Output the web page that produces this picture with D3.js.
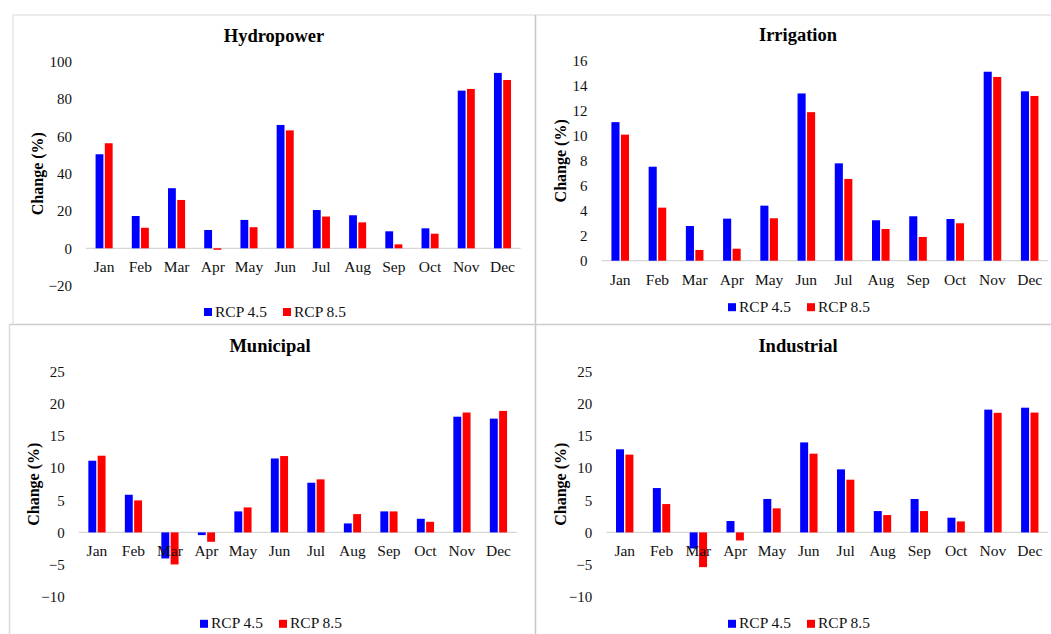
<!DOCTYPE html>
<html>
<head>
<meta charset="utf-8">
<script src="https://cdn.jsdelivr.net/npm/d3@7"></script>
<style>
  html, body { margin: 0; padding: 0; background: #ffffff; }
  svg { display: block; }
</style>
</head>
<body>
<svg id="chart" width="1051" height="634"></svg>
<script>
// Monthly change (%) in water demand / supply under two climate scenarios
const months = ["Jan", "Feb", "Mar", "Apr", "May", "Jun", "Jul", "Aug", "Sep", "Oct", "Nov", "Dec"];
const seriesNames = ["RCP 4.5", "RCP 8.5"];

const hydropower45 = [50.4, 17.3, 32.2, 9.8, 15.2, 66.1, 20.5, 17.7, 9.1, 10.7, 84.5, 94.0];
const hydropower85 = [56.3, 11.0, 25.9, -0.8, 11.3, 63.2, 17.0, 13.9, 2.1, 7.8, 85.4, 90.2];

const irrigation45 = [11.1, 7.53, 2.78, 3.37, 4.41, 13.4, 7.8, 3.24, 3.56, 3.34, 15.14, 13.57];
const irrigation85 = [10.1, 4.25, 0.86, 0.96, 3.4, 11.9, 6.55, 2.54, 1.9, 3.0, 14.72, 13.2];

const municipal45 = [11.15, 5.86, -4.05, -0.42, 3.27, 11.5, 7.73, 1.4, 3.27, 2.12, 18.0, 17.7];
const municipal85 = [11.93, 4.98, -4.98, -1.46, 3.89, 11.88, 8.25, 2.85, 3.27, 1.65, 18.65, 18.9];

const industrial45 = [12.93, 6.9, -2.5, 1.77, 5.2, 14.0, 9.81, 3.32, 5.2, 2.29, 19.1, 19.4];
const industrial85 = [12.1, 4.41, -5.4, -1.25, 3.74, 12.25, 8.2, 2.7, 3.32, 1.71, 18.6, 18.64];

const hydropowerTicks = [-20, 0, 20, 40, 60, 80, 100];
const irrigationTicks = [0, 2, 4, 6, 8, 10, 12, 14, 16];
const municipalTicks = [-10, -5, 0, 5, 10, 15, 20, 25];
const industrialTicks = [-10, -5, 0, 5, 10, 15, 20, 25];

// Panel placement on the page
const layout = [
  { title: "Hydropower", s45: hydropower45, s85: hydropower85, ticks: hydropowerTicks,
    x0: 86, x1: 520.6, yBottom: 285.6, yTop: 61.7, cx: 274, titleY: 41.5, legendY: 316.5, yLabelX: 37 },
  { title: "Irrigation", s45: irrigation45, s85: irrigation85, ticks: irrigationTicks,
    x0: 601.6, x1: 1048.3, yBottom: 260.7, yTop: 61, cx: 798, titleY: 40.7, legendY: 311.7, yLabelX: 560 },
  { title: "Municipal", s45: municipal45, s85: municipal85, ticks: municipalTicks,
    x0: 78.7, x1: 516.7, yBottom: 596.7, yTop: 371.7, cx: 270, titleY: 351.7, legendY: 628.3, yLabelX: 33.3 },
  { title: "Industrial", s45: industrial45, s85: industrial85, ticks: industrialTicks,
    x0: 606.3, x1: 1048.2, yBottom: 596.7, yTop: 371.7, cx: 798, titleY: 351.7, legendY: 628.3, yLabelX: 560 }
];

const colors = ["#0000ff", "#ff0000"];
const serif = "'Liberation Serif', 'Times New Roman', serif";
const textColor = "#111";
const barGap = 1.4;

const svg = d3.select("#chart");

// Panel frame lines
const frame = svg.append("g").attr("fill", "none");
frame.append("line").attr("x1", 13).attr("y1", 15).attr("x2", 1051).attr("y2", 15)
  .attr("stroke", "#e4e4e4").attr("stroke-width", 1.5);
frame.append("line").attr("x1", 13).attr("y1", 15).attr("x2", 13).attr("y2", 324)
  .attr("stroke", "#e4e4e4").attr("stroke-width", 1.5);
frame.append("line").attr("x1", 535.5).attr("y1", 15).attr("x2", 535.5).attr("y2", 634)
  .attr("stroke", "#c6c6c6").attr("stroke-width", 1.5);
frame.append("line").attr("x1", 9).attr("y1", 324.5).attr("x2", 1051).attr("y2", 324.5)
  .attr("stroke", "#cdcdcd").attr("stroke-width", 1.5);
frame.append("line").attr("x1", 9.5).attr("y1", 324.5).attr("x2", 9.5).attr("y2", 634)
  .attr("stroke", "#dcdcdc").attr("stroke-width", 1.5);

layout.forEach(p => {
  const g = svg.append("g");
  const lo = d3.min(p.ticks), hi = d3.max(p.ticks);

  const x = d3.scaleBand().domain(months).range([p.x0, p.x1])
    .paddingInner(0.49).paddingOuter(0.245);
  const xs = d3.scaleBand().domain(seriesNames).range([0, x.bandwidth()]);
  const y = d3.scaleLinear().domain([lo, hi]).range([p.yBottom, p.yTop]);

  // Title
  g.append("text")
    .attr("x", p.cx).attr("y", p.titleY)
    .attr("text-anchor", "middle")
    .attr("font-family", serif).attr("font-weight", "bold").attr("font-size", 18.5)
    .attr("fill", "#000")
    .text(p.title);

  // Y axis labels (no line, no ticks)
  const yAxis = g.append("g")
    .attr("transform", `translate(${p.x0},0)`)
    .call(d3.axisLeft(y).tickValues(p.ticks).tickSize(0).tickPadding(14).tickFormat(d3.format("d")));
  yAxis.select(".domain").remove();
  yAxis.selectAll("text")
    .attr("font-family", serif).attr("font-size", 15).attr("fill", textColor);

  // Y axis title
  g.append("text")
    .attr("transform", `translate(${p.yLabelX},${(p.yTop + p.yBottom) / 2}) rotate(-90)`)
    .attr("text-anchor", "middle").attr("dy", "0.35em")
    .attr("font-family", serif).attr("font-weight", "bold").attr("font-size", 16)
    .attr("fill", "#000")
    .text("Change (%)");

  // Zero baseline
  g.append("line")
    .attr("x1", p.x0).attr("x2", p.x1)
    .attr("y1", y(0)).attr("y2", y(0))
    .attr("stroke", "#d6d6d6").attr("stroke-width", 1.2);

  // Bars
  const rows = months.map((m, i) => ({ month: m, vals: [p.s45[i], p.s85[i]] }));
  const grp = g.append("g").selectAll("g").data(rows).join("g")
    .attr("transform", d => `translate(${x(d.month)},0)`);
  grp.selectAll("rect")
    .data(d => d.vals.map((v, k) => ({ key: seriesNames[k], v, k })))
    .join("rect")
    .attr("x", d => xs(d.key) + barGap / 2)
    .attr("width", xs.bandwidth() - barGap)
    .attr("y", d => y(Math.max(0, d.v)))
    .attr("height", d => Math.abs(y(d.v) - y(0)))
    .attr("fill", d => colors[d.k]);

  // Month labels at the zero line, drawn over the bars
  const xAxis = g.append("g")
    .attr("transform", `translate(0,${y(0)})`)
    .call(d3.axisBottom(x).tickSize(0));
  xAxis.select(".domain").remove();
  xAxis.selectAll("text")
    .attr("dy", null).attr("y", 24)
    .attr("font-family", serif).attr("font-size", 15.5).attr("fill", textColor);

  // Legend
  const legend = g.append("g");
  const offsets = [-70, 9];
  seriesNames.forEach((name, k) => {
    const lx = p.cx + offsets[k];
    legend.append("rect")
      .attr("x", lx).attr("y", p.legendY - 8.5)
      .attr("width", 8).attr("height", 8)
      .attr("fill", colors[k]);
    legend.append("text")
      .attr("x", lx + 11).attr("y", p.legendY)
      .attr("font-family", serif).attr("font-size", 15.5).attr("fill", textColor)
      .text(name);
  });
});
</script>
</body>
</html>
